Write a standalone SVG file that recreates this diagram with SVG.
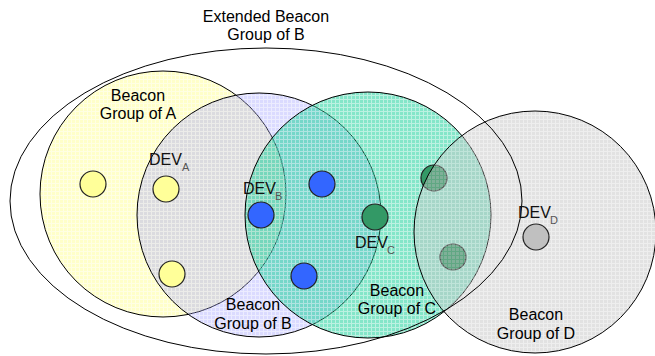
<svg xmlns="http://www.w3.org/2000/svg" width="655" height="356" viewBox="0 0 655 356">
  <defs>
    <style>
      .zone { stroke: #000; stroke-width: 1; }
      .dev { stroke: #222; stroke-width: 1.2; }
      .lbl { font-family: "Liberation Sans", Arial, sans-serif; font-size: 16px; fill: #000; text-anchor: middle; }
      .dv { font-family: "Liberation Sans", Arial, sans-serif; font-size: 16px; fill: #111; }
      .sub { font-family: "Liberation Sans", Arial, sans-serif; font-size: 11px; fill: #555; }
    </style>
    <!-- gingham-like translucent fills, all aligned on the same 4px grid -->
    <pattern id="fillA" width="4" height="4" patternUnits="userSpaceOnUse">
      <rect width="4" height="4" fill="#FFFF90" fill-opacity="0.25"/>
      <rect width="3" height="3" fill="#FFFF90" fill-opacity="0.3"/>
    </pattern>
    <pattern id="fillB" width="4" height="4" patternUnits="userSpaceOnUse">
      <rect width="4" height="4" fill="#A8A8FF" fill-opacity="0.22"/>
      <rect width="3" height="3" fill="#A8A8FF" fill-opacity="0.25"/>
    </pattern>
    <pattern id="fillC" width="4" height="4" patternUnits="userSpaceOnUse">
      <rect width="4" height="4" fill="#30D4A4" fill-opacity="0.32"/>
      <rect width="3" height="3" fill="#30D4A4" fill-opacity="0.4"/>
    </pattern>
    <pattern id="fillD" width="4" height="4" patternUnits="userSpaceOnUse">
      <rect width="4" height="4" fill="#C8C8C8" fill-opacity="0.3"/>
      <rect width="3" height="3" fill="#C8C8C8" fill-opacity="0.3"/>
    </pattern>
  </defs>

  <rect width="655" height="356" fill="#fff"/>

  <!-- beacon group ranges -->
  <g id="group-a"><circle class="zone" cx="163" cy="194" r="123" fill="url(#fillA)"/></g>
  <g id="group-b"><circle class="zone" cx="259" cy="215" r="122" fill="url(#fillB)"/></g>
  <g id="group-c"><circle class="zone" cx="368" cy="215" r="123" fill="url(#fillC)"/></g>

  <!-- devices of A -->
  <g id="dev-a1"><circle class="dev" cx="93" cy="184" r="13" fill="#FFFF99"/></g>
  <g id="dev-a2"><circle class="dev" cx="166" cy="189" r="13" fill="#FFFF99"/></g>
  <g id="dev-a3"><circle class="dev" cx="172" cy="274" r="13" fill="#FFFF99"/></g>

  <!-- devices of B -->
  <g id="dev-b1"><circle class="dev" cx="322" cy="184" r="13" fill="#3366FF"/></g>
  <g id="dev-b2"><circle class="dev" cx="261" cy="215" r="13" fill="#3366FF"/></g>
  <g id="dev-b3"><circle class="dev" cx="304" cy="276" r="13" fill="#3366FF"/></g>

  <!-- devices of C -->
  <g id="dev-c1"><circle class="dev" cx="434" cy="178" r="13" fill="#339966"/></g>
  <g id="dev-c2"><circle class="dev" cx="375" cy="217" r="13" fill="#339966"/></g>
  <g id="dev-c3"><circle class="dev" cx="453" cy="257" r="13" fill="#339966"/></g>

  <!-- group D drawn over the C devices it covers -->
  <g id="group-d"><circle class="zone" cx="535" cy="232" r="121" fill="url(#fillD)"/></g>
  <g id="dev-d"><circle class="dev" cx="536" cy="237" r="13" fill="#C0C0C0"/></g>

  <!-- extended beacon group of B -->
  <g id="extended-b">
    <ellipse cx="266" cy="201" rx="256" ry="153" fill="none" stroke="#000" stroke-width="1"/>
    <text class="lbl" x="266" y="22">Extended Beacon</text>
    <text class="lbl" x="266" y="40">Group of B</text>
  </g>

  <!-- labels -->
  <g id="labels">
    <text class="lbl" x="138" y="101">Beacon</text>
    <text class="lbl" x="138" y="119">Group of A</text>
    <text class="lbl" x="253" y="310">Beacon</text>
    <text class="lbl" x="253" y="329">Group of B</text>
    <text class="lbl" x="397" y="296">Beacon</text>
    <text class="lbl" x="397" y="314">Group of C</text>
    <text class="lbl" x="536" y="320">Beacon</text>
    <text class="lbl" x="536" y="339">Group of D</text>

    <text class="dv" x="149" y="165">DEV</text><text class="sub" x="182" y="171">A</text>
    <text class="dv" x="243" y="194">DEV</text><text class="sub" x="275" y="200">B</text>
    <text class="dv" x="355" y="248">DEV</text><text class="sub" x="387" y="254">C</text>
    <text class="dv" x="518" y="218">DEV</text><text class="sub" x="550" y="224">D</text>
  </g>
</svg>
